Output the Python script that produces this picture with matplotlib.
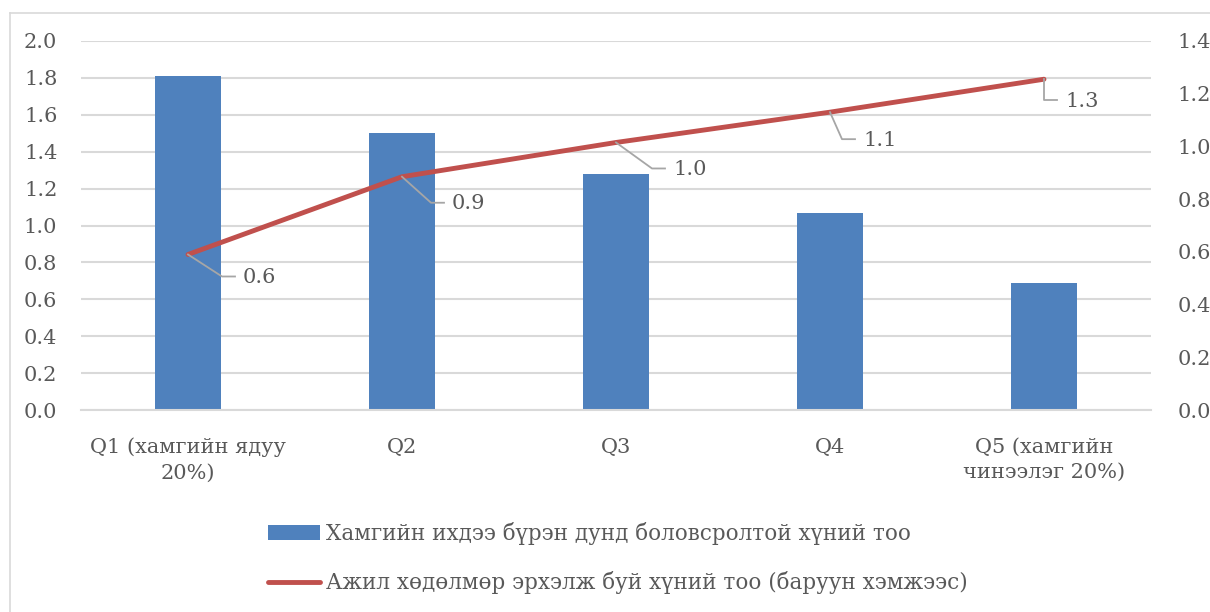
import matplotlib
matplotlib.use("Agg")
import matplotlib.pyplot as plt
from matplotlib.lines import Line2D
import numpy as np

categories = ["Q1 (хамгийн ядуу\n20%)", "Q2", "Q3", "Q4", "Q5 (хамгийн\nчинээлэг 20%)"]
bar_values = [1.81, 1.50, 1.28, 1.07, 0.69]
line_values = [0.59, 0.885, 1.015, 1.13, 1.255]
bar_label = "Хамгийн ихдээ бүрэн дунд боловсролтой хүний тоо"
line_label = "Ажил хөдөлмөр эрхэлж буй хүний тоо (баруун хэмжээс)"
left_ticks = [0.0, 0.2, 0.4, 0.6, 0.8, 1.0, 1.2, 1.4, 1.6, 1.8, 2.0]
right_ticks = [0.0, 0.2, 0.4, 0.6, 0.8, 1.0, 1.2, 1.4]

# leader-line corner offsets in pixels (dx right, dy down) from each line point
leader_corners = [(34, 22), (29, 26), (36, 26), (12, 27), (0, 21)]

W, H = 1210, 612
FONT = "DejaVu Serif"
FS = 15
TXT = "#595959"
BAR_C = "#4F81BD"
LINE_C = "#C0504D"
GRID_C = "#D9D9D9"
LEAD_C = "#A6A6A6"

plt.rcParams["font.family"] = [FONT, "DejaVu Sans"]

fig = plt.figure(figsize=(W / 100, H / 100), dpi=100)
ax = fig.add_axes([81 / W, 1 - 410 / H, (1151 - 81) / W, (410 - 41) / H])
ax2 = ax.twinx()

x = np.arange(len(categories))
ax.bar(x, bar_values, width=0.31, color=BAR_C, zorder=2, label=bar_label)
ax.set_ylim(0, 2.0)
ax.set_xlim(-0.5, len(categories) - 0.5)
ax.set_yticks(left_ticks)
ax.set_yticklabels([f"{v:.1f}" for v in left_ticks])
ax.yaxis.grid(True, color=GRID_C, lw=1.5, zorder=0)
ax.set_axisbelow(True)
ax.set_xticks(x)
ax.set_xticklabels(categories, linespacing=1.4)
ax.tick_params(axis="x", length=0, pad=20, labelsize=FS, labelcolor=TXT)
ax.tick_params(axis="y", length=0, pad=17, labelsize=FS, labelcolor=TXT)

ln, = ax2.plot(x, line_values, color=LINE_C, lw=3.5, zorder=3, label=line_label,
               solid_capstyle="round")
ax2.set_ylim(0, 1.4)
ax2.set_yticks(right_ticks)
ax2.set_yticklabels([f"{v:.1f}" for v in right_ticks])
ax2.tick_params(axis="y", length=0, pad=19, labelsize=FS, labelcolor=TXT)

for a in (ax, ax2):
    for s in a.spines.values():
        s.set_visible(False)
ax.spines["bottom"].set_visible(True)
ax.spines["bottom"].set_color(GRID_C)
ax.spines["bottom"].set_linewidth(1.5)

# data labels with leader lines
for xi, yi, (cx, cy) in zip(x, line_values, leader_corners):
    px, py = ax2.transData.transform((xi, yi))
    pts_x = [px, px + cx, px + cx + 13]
    pts_y = [py, py - cy, py - cy]
    fig.add_artist(Line2D([p / W for p in pts_x], [p / H for p in pts_y],
                          transform=fig.transFigure, color=LEAD_C, lw=1.3, zorder=4))
    fig.text((px + cx + 21) / W, (py - cy - 1) / H, f"{yi:.1f}", ha="left", va="center",
             fontsize=FS, color=TXT)

# legend
handles = [ax.patches[0], ln]
leg = fig.legend(handles, [bar_label, line_label], loc="upper left",
                 bbox_to_anchor=(268 / W, 1 - 522 / H), frameon=False, ncol=1,
                 fontsize=15.5, handlelength=2.4, handletextpad=0.3, labelspacing=1.22,
                 borderpad=0, borderaxespad=0)
for t in leg.get_texts():
    t.set_color(TXT)

# outer chart border (left and top visible)
fig.add_artist(Line2D([9.5 / W, 9.5 / W], [0, 1 - 12.5 / H], transform=fig.transFigure,
                      color=GRID_C, lw=1.2))
fig.add_artist(Line2D([9.5 / W, 1], [1 - 12.5 / H, 1 - 12.5 / H], transform=fig.transFigure,
                      color=GRID_C, lw=1.2))

fig.savefig("out.png", dpi=100)
